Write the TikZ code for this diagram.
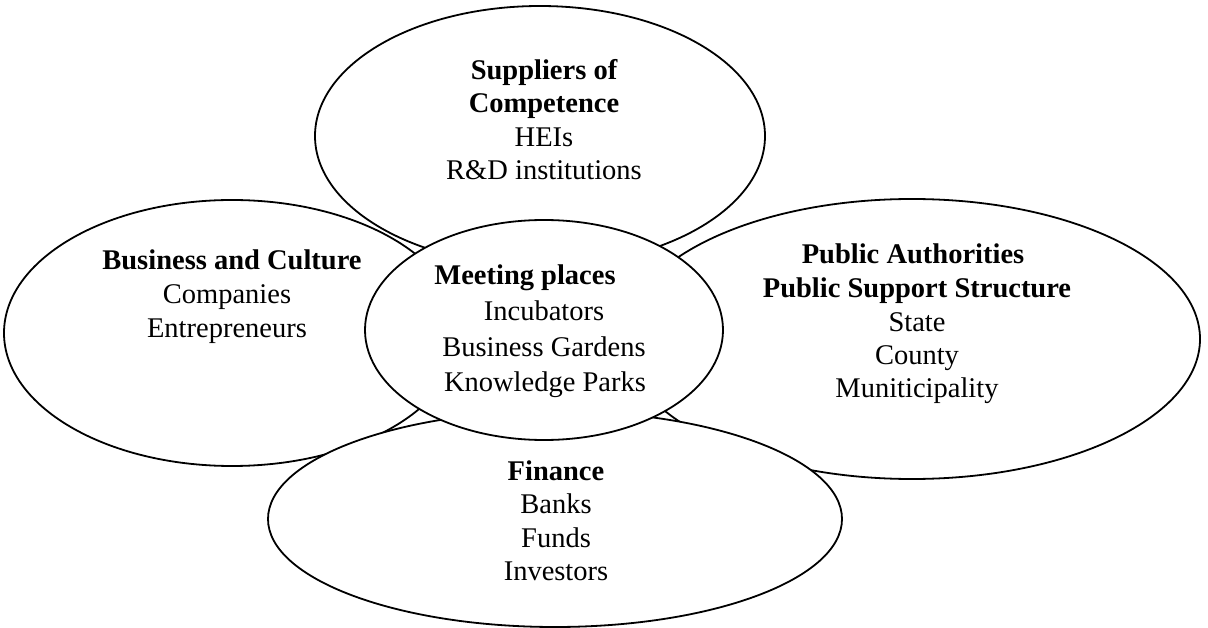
\documentclass[tikz,border=0pt]{standalone}
\usepackage{fontspec}
\setmainfont{Liberation Serif}
\usetikzlibrary{shapes.geometric}
\tikzset{
  blob/.style={ellipse, draw=black, fill=white, line width=1.8pt, inner sep=0pt},
  txt/.style={anchor=base, inner sep=0pt, font=\fontsize{28.5}{34}\selectfont},
  ttl/.style={txt, font=\fontsize{28.5}{34}\selectfont\bfseries}
}
\begin{document}
\begin{tikzpicture}[x=1pt,y=-1pt]
\useasboundingbox (0,0) rectangle (1208,628);
% petals
\node[blob, minimum width=450pt, minimum height=260pt] (top) at (540,136) {};
\node[blob, minimum width=456pt, minimum height=266pt] (left) at (232,333) {};
\node[blob, minimum width=576pt, minimum height=280pt] (right) at (912,339) {};
\node[blob, minimum width=574pt, minimum height=216pt] (bottom) at (555,519) {};
\node[blob, minimum width=358pt, minimum height=220pt] (center) at (544,330) {};
% Suppliers of Competence
\node[ttl] (s1) at (544,79.5) {Suppliers of};
\node[ttl] (s2) at (544,113) {Competence};
\node[txt] (s3) at (544,146.5) {HEIs};
\node[txt] (s4) at (544,180) {R\&D institutions};
% Business and Culture
\node[ttl] (b1) at (232,270) {Business and Culture};
\node[txt] (b2) at (227,304) {Companies};
\node[txt] (b3) at (227,338) {Entrepreneurs};
% Meeting places
\node[ttl] (m1) at (525,285) {Meeting places};
\node[txt] (m2) at (544,320.5) {Incubators};
\node[txt] (m3) at (544,356) {Business Gardens};
\node[txt] (m4) at (545,391.5) {Knowledge Parks};
% Public Authorities
\node[ttl] (p1) at (913,264) {Public Authorities};
\node[ttl] (p2) at (917,298) {Public Support Structure};
\node[txt] (p3) at (917,332) {State};
\node[txt] (p4) at (917,365) {County};
\node[txt] (p5) at (917,398) {Muniticipality};
% Finance
\node[ttl] (f1) at (556,480) {Finance};
\node[txt] (f2) at (556,513.5) {Banks};
\node[txt] (f3) at (556,547) {Funds};
\node[txt] (f4) at (556,580.5) {Investors};
\end{tikzpicture}
\end{document}
